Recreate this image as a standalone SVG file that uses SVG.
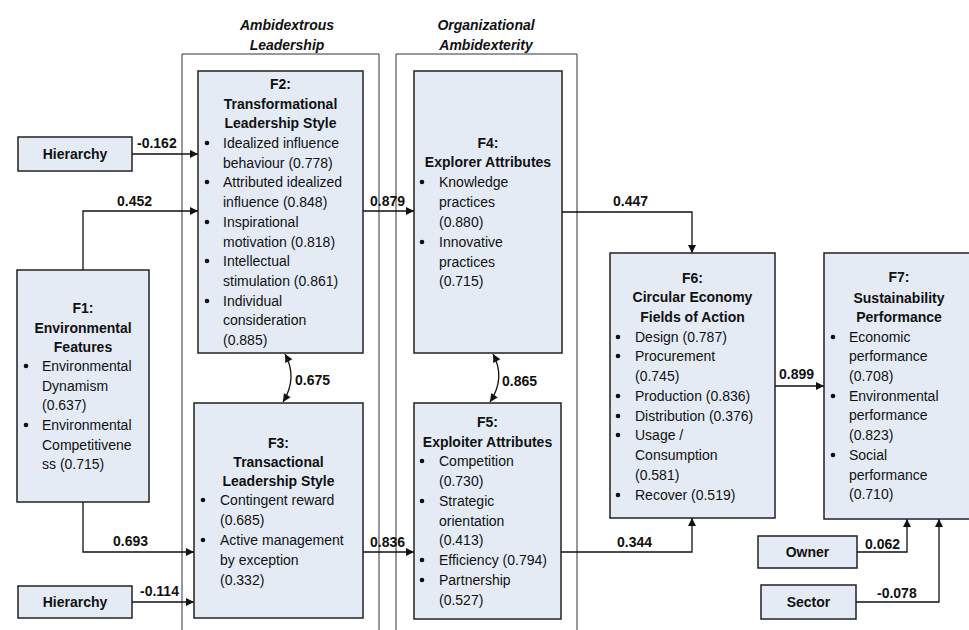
<svg xmlns="http://www.w3.org/2000/svg" width="969" height="630" viewBox="0 0 969 630">
<style>
text{font-family:"Liberation Sans",Arial,sans-serif;font-size:14px;fill:#111}
.b{font-weight:bold}
.c{text-anchor:middle}
.t{font-weight:bold;font-style:italic;text-anchor:middle}
.box{fill:#E4EBF5;stroke:#222;stroke-width:1.5}
.frame{fill:none;stroke:#333;stroke-width:1}
.con{fill:none;stroke:#111;stroke-width:1.3}
.arr{marker-end:url(#ah)}
.dbl{marker-start:url(#ah);marker-end:url(#ah)}
.dot{fill:#111}
</style>
<defs>
<marker id="ah" viewBox="0 0 10 10" refX="10" refY="5" markerWidth="11" markerHeight="8" markerUnits="userSpaceOnUse" orient="auto-start-reverse">
<path d="M0,0 L10,5 L0,10 z" fill="#111"/>
</marker>
</defs>
<rect width="969" height="630" fill="#fff"/>
<g id="frames">
<path class="frame" d="M182,630 V54 H379 V630"/>
<path class="frame" d="M396,630 V54 H577 V630"/>
<text class="t" x="287" y="30">Ambidextrous</text>
<text class="t" x="287" y="50">Leadership</text>
<text class="t" x="486" y="30">Organizational</text>
<text class="t" x="486" y="50">Ambidexterity</text>
</g>
<g id="connectors">
<path class="con arr" d="M132,154 H198"/>
<path class="con arr" d="M83,270 V211 H198"/>
<path class="con arr" d="M83,502 V552 H194"/>
<path class="con arr" d="M132,602 H194"/>
<path class="con arr" d="M363,211 H414"/>
<path class="con arr" d="M363,552 H414"/>
<path class="con arr" d="M562,212 H692 V253"/>
<path class="con arr" d="M561,552 H692 V518"/>
<path class="con arr" d="M775,386 H824"/>
<path class="con arr" d="M857,552 H907 V519"/>
<path class="con arr" d="M856,602 H939 V519"/>
<path class="con dbl" d="M285,354 Q298,378 283,402"/>
<path class="con dbl" d="M493,354 Q506,378 490,402"/>
<text class="b" x="137" y="148">-0.162</text>
<text class="b" x="117" y="206">0.452</text>
<text class="b" x="370" y="206">0.879</text>
<text class="b" x="613" y="206">0.447</text>
<text class="b" x="295" y="385">0.675</text>
<text class="b" x="502" y="386">0.865</text>
<text class="b" x="113" y="546">0.693</text>
<text class="b" x="370" y="547">0.836</text>
<text class="b" x="617" y="547">0.344</text>
<text class="b" x="140" y="596">-0.114</text>
<text class="b" x="779" y="379">0.899</text>
<text class="b" x="865" y="549">0.062</text>
<text class="b" x="877" y="598">-0.078</text>
</g>
<g id="hierarchy1">
<rect class="box" x="18" y="137" width="114" height="34"/>
<text class="b c" x="75" y="159">Hierarchy</text>
</g>
<g id="hierarchy2">
<rect class="box" x="18" y="586" width="114" height="32"/>
<text class="b c" x="75" y="607">Hierarchy</text>
</g>
<g id="owner">
<rect class="box" x="758" y="536" width="99" height="32"/>
<text class="b c" x="807.5" y="557">Owner</text>
</g>
<g id="sector">
<rect class="box" x="761" y="585" width="95" height="34"/>
<text class="b c" x="808.5" y="607">Sector</text>
</g>
<g id="F1">
<rect class="box" x="17" y="270" width="132" height="232"/>
<text class="b c" x="83" y="313">F1:</text>
<text class="b c" x="83" y="333">Environmental</text>
<text class="b c" x="83" y="352">Features</text>
<circle class="dot" cx="26" cy="366" r="2.3"/>
<circle class="dot" cx="26" cy="425" r="2.3"/>
<text x="42" y="371">Environmental</text>
<text x="42" y="391">Dynamism</text>
<text x="42" y="410">(0.637)</text>
<text x="42" y="430">Environmental</text>
<text x="42" y="450">Competitivene</text>
<text x="42" y="469">ss (0.715)</text>
</g>
<g id="F2">
<rect class="box" x="198" y="71" width="165" height="282"/>
<text class="b c" x="280.5" y="89">F2:</text>
<text class="b c" x="280.5" y="109">Transformational</text>
<text class="b c" x="280.5" y="128">Leadership Style</text>
<circle class="dot" cx="207" cy="143" r="2.3"/>
<circle class="dot" cx="207" cy="182" r="2.3"/>
<circle class="dot" cx="207" cy="222" r="2.3"/>
<circle class="dot" cx="207" cy="261" r="2.3"/>
<circle class="dot" cx="207" cy="301" r="2.3"/>
<text x="223" y="148">Idealized influence</text>
<text x="223" y="168">behaviour (0.778)</text>
<text x="223" y="187">Attributed idealized</text>
<text x="223" y="207">influence (0.848)</text>
<text x="223" y="227">Inspirational</text>
<text x="223" y="247">motivation (0.818)</text>
<text x="223" y="266">Intellectual</text>
<text x="223" y="286">stimulation (0.861)</text>
<text x="223" y="306">Individual</text>
<text x="223" y="325">consideration</text>
<text x="223" y="345">(0.885)</text>
</g>
<g id="F3">
<rect class="box" x="194" y="403" width="169" height="215"/>
<text class="b c" x="278.5" y="448">F3:</text>
<text class="b c" x="278.5" y="467">Transactional</text>
<text class="b c" x="278.5" y="486">Leadership Style</text>
<circle class="dot" cx="203" cy="500" r="2.3"/>
<circle class="dot" cx="203" cy="540" r="2.3"/>
<text x="220" y="505">Contingent reward</text>
<text x="220" y="525">(0.685)</text>
<text x="220" y="545">Active management</text>
<text x="220" y="565">by exception</text>
<text x="220" y="585">(0.332)</text>
</g>
<g id="F4">
<rect class="box" x="414" y="71" width="148" height="282"/>
<text class="b c" x="488" y="148">F4:</text>
<text class="b c" x="488" y="167">Explorer Attributes</text>
<circle class="dot" cx="422" cy="182" r="2.3"/>
<circle class="dot" cx="422" cy="242" r="2.3"/>
<text x="439" y="187">Knowledge</text>
<text x="439" y="207">practices</text>
<text x="439" y="227">(0.880)</text>
<text x="439" y="247">Innovative</text>
<text x="439" y="267">practices</text>
<text x="439" y="286">(0.715)</text>
</g>
<g id="F5">
<rect class="box" x="414" y="403" width="147" height="216"/>
<text class="b c" x="487.5" y="427">F5:</text>
<text class="b c" x="487.5" y="447">Exploiter Attributes</text>
<circle class="dot" cx="422" cy="461" r="2.3"/>
<circle class="dot" cx="422" cy="501" r="2.3"/>
<circle class="dot" cx="422" cy="560" r="2.3"/>
<circle class="dot" cx="422" cy="580" r="2.3"/>
<text x="439" y="466">Competition</text>
<text x="439" y="486">(0.730)</text>
<text x="439" y="506">Strategic</text>
<text x="439" y="526">orientation</text>
<text x="439" y="545">(0.413)</text>
<text x="439" y="565">Efficiency (0.794)</text>
<text x="439" y="585">Partnership</text>
<text x="439" y="605">(0.527)</text>
</g>
<g id="F6">
<rect class="box" x="610" y="253" width="165" height="265"/>
<text class="b c" x="692.5" y="283">F6:</text>
<text class="b c" x="692.5" y="302">Circular Economy</text>
<text class="b c" x="692.5" y="322">Fields of Action</text>
<circle class="dot" cx="618" cy="337" r="2.3"/>
<circle class="dot" cx="618" cy="356" r="2.3"/>
<circle class="dot" cx="618" cy="396" r="2.3"/>
<circle class="dot" cx="618" cy="416" r="2.3"/>
<circle class="dot" cx="618" cy="435" r="2.3"/>
<circle class="dot" cx="618" cy="495" r="2.3"/>
<text x="635" y="342">Design (0.787)</text>
<text x="635" y="361">Procurement</text>
<text x="635" y="381">(0.745)</text>
<text x="635" y="401">Production (0.836)</text>
<text x="635" y="421">Distribution (0.376)</text>
<text x="635" y="440">Usage /</text>
<text x="635" y="460">Consumption</text>
<text x="635" y="480">(0.581)</text>
<text x="635" y="500">Recover (0.519)</text>
</g>
<g id="F7">
<rect class="box" x="824" y="253" width="152" height="266"/>
<text class="b c" x="899" y="282">F7:</text>
<text class="b c" x="899" y="303">Sustainability</text>
<text class="b c" x="899" y="322">Performance</text>
<circle class="dot" cx="833" cy="337" r="2.3"/>
<circle class="dot" cx="833" cy="396" r="2.3"/>
<circle class="dot" cx="833" cy="455" r="2.3"/>
<text x="849" y="342">Economic</text>
<text x="849" y="361">performance</text>
<text x="849" y="381">(0.708)</text>
<text x="849" y="401">Environmental</text>
<text x="849" y="420">performance</text>
<text x="849" y="440">(0.823)</text>
<text x="849" y="460">Social</text>
<text x="849" y="480">performance</text>
<text x="849" y="499">(0.710)</text>
</g>
</svg>
